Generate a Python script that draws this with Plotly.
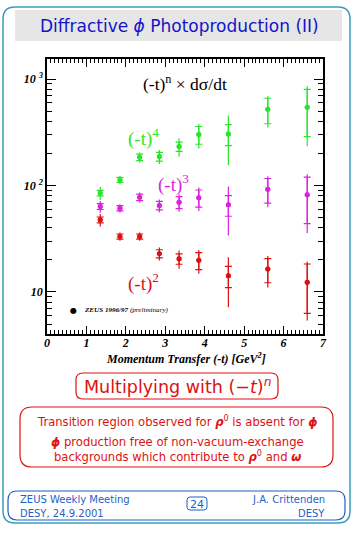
import plotly.graph_objects as go

# ---------------- data ----------------
t_vals = [1.35, 1.85, 2.35, 2.85, 3.35, 3.85, 4.6, 5.6, 6.6]

n4_vals = [85, 113, 184, 187, 232, 301, 305, 520, 543]
n4_stat = [5, 6, 13, 18, 23, 57, 68, 140, 255]
n4_tot = [12, 10, 20, 28, 46, 78, 150, 170, 310]

n3_vals = [63.5, 61.2, 77.6, 64.9, 69.7, 76.7, 65.9, 92.3, 81.8]
n3_stat = [4, 3.4, 5.5, 6, 9, 14, 14.5, 24, 38]
n3_tot = [8, 5.5, 8.5, 9, 13, 19, 32, 30, 46]

n2_vals = [47.6, 33.2, 33.2, 22.9, 20.5, 19.8, 14.2, 16.4, 12.3]
n2_stat = [3, 1.8, 1.8, 2, 2.3, 3.6, 3.2, 4.2, 6]
n2_tot = [6.5, 3, 3, 3.2, 4, 5, 7, 5.4, 6.9]

x_ticks = [0, 1, 2, 3, 4, 5, 6, 7]
y_ticks = [10, 100, 1000]
y_ticktext = ["10", "10 <sup>2</sup>", "10 <sup>3</sup>"]

GREEN = "#2ae62a"
MAGENTA = "#dd22dd"
RED = "#dd1111"
BLUE_T = "#1414c8"
BLUE_F = "#1f5fc8"
FRAME = "#3a9cbc"

# ---------------- geometry helpers (pixel -> paper) ----------------
W, H = 363, 535
L, T, R, B = 47, 59, 323, 334


def px(x):
    return (x - L) / (R - L)


def py(y):
    return (B - y) / (B - T)


def rrect(x0, y0, x1, y1, r):
    pts = [
        ("M", [(x0 + r, y0)]),
        ("L", [(x1 - r, y0)]),
        ("Q", [(x1, y0), (x1, y0 + r)]),
        ("L", [(x1, y1 - r)]),
        ("Q", [(x1, y1), (x1 - r, y1)]),
        ("L", [(x0 + r, y1)]),
        ("Q", [(x0, y1), (x0, y1 - r)]),
        ("L", [(x0, y0 + r)]),
        ("Q", [(x0, y0), (x0 + r, y0)]),
    ]
    s = ""
    for cmd, ps in pts:
        s += cmd + " " + " ".join(f"{px(a):.5f},{py(b):.5f}" for a, b in ps) + " "
    return s + "Z"


fig = go.Figure()

series = [
    (n4_vals, n4_stat, n4_tot, GREEN),
    (n3_vals, n3_stat, n3_tot, MAGENTA),
    (n2_vals, n2_stat, n2_tot, RED),
]
for vals, stat, tot, col in series:
    fig.add_trace(go.Scatter(
        x=t_vals, y=vals, mode="markers",
        marker=dict(color=col, size=5),
        error_y=dict(type="data", array=tot, color=col, thickness=1.2, width=0),
        showlegend=False, hoverinfo="skip"))
    fig.add_trace(go.Scatter(
        x=t_vals, y=vals, mode="markers",
        marker=dict(color=col, size=5),
        error_y=dict(type="data", array=stat, color=col, thickness=1.2, width=3.5),
        showlegend=False, hoverinfo="skip"))

tickfont = dict(family="Liberation Serif", size=12, color="black",
                weight="bold", style="italic")

y_minor = [m * 10 ** e for e in range(0, 4) for m in range(2, 10)]

fig.update_xaxes(
    range=[0, 7], tickvals=x_ticks, ticks="inside", ticklen=8,
    tickcolor="black", showline=True, linecolor="black", linewidth=1.5,
    mirror="ticks", showgrid=False, zeroline=False, tickfont=tickfont,
    ticklabelstandoff=-3,
    minor=dict(ticks="inside", dtick=0.1, ticklen=4, tickcolor="black",
               showgrid=False))
fig.update_yaxes(
    type="log", range=[0.605, 3.188], tickvals=y_ticks, ticktext=y_ticktext,
    ticks="inside", ticklen=9, tickcolor="black", showline=True,
    linecolor="black", linewidth=1.5, mirror="ticks", showgrid=False,
    zeroline=False, tickfont=dict(family="Liberation Serif", size=12,
                                  color="black", weight="bold", style="italic"),
    minor=dict(ticks="inside", tickvals=y_minor, ticklen=5, tickcolor="black",
               showgrid=False))

shapes = [
    # outer frame
    dict(type="path", path=rrect(3, 7, 350, 523, 12),
         line=dict(color=FRAME, width=1.5), fillcolor="rgba(0,0,0,0)"),
    # title band
    dict(type="rect", x0=px(15), x1=px(342), y0=py(10), y1=py(41),
         line=dict(width=0), fillcolor="#e6e6e6", layer="below"),
    # red boxes
    dict(type="path", path=rrect(76, 373, 278, 399, 7),
         line=dict(color=RED, width=1.2), fillcolor="rgba(0,0,0,0)"),
    dict(type="path", path=rrect(20, 407, 333, 467, 12),
         line=dict(color=RED, width=1.2), fillcolor="rgba(0,0,0,0)"),
    # footer box
    dict(type="path", path=rrect(8, 491, 345, 520, 9),
         line=dict(color=BLUE_F, width=1.2), fillcolor="rgba(0,0,0,0)"),
    dict(type="path", path=rrect(187, 497, 207, 510, 3),
         line=dict(color=BLUE_F, width=1), fillcolor="rgba(0,0,0,0)"),
]
for s in shapes:
    s.update(xref="paper", yref="paper")
fig.update_layout(shapes=shapes)

SANS = "DejaVu Sans"
SERIF = "Liberation Serif"


def ann(text, x, y, size, color, family=SANS, xanchor="center",
        yanchor="middle", xref="paper", yref="paper", **kw):
    fig.add_annotation(text=text, x=x, y=y, xref=xref, yref=yref,
                       showarrow=False, xanchor=xanchor, yanchor=yanchor,
                       font=dict(family=family, size=size, color=color, **kw))


# title
ann("Diffractive <i>ϕ</i> Photoproduction (II)", px(179), py(26), 17, BLUE_T)

# in-plot labels
ann("(-t)<sup>n</sup> × dσ/dt", 3.5, 2.967, 17.5, "black", family=SERIF,
    xref="x", yref="y")
ann("(-t)<sup>4</sup>", 2.44, 2.451, 19, GREEN, family=SERIF, xref="x", yref="y")
ann("(-t)<sup>3</sup>", 3.22, 2.019, 19, MAGENTA, family=SERIF, xref="x", yref="y")
ann("(-t)<sup>2</sup>", 2.45, 1.089, 19, RED, family=SERIF, xref="x", yref="y")

# legend-like note
ann("●", px(73), py(310), 8, "black", family=SANS)
ann("<b><i>ZEUS 1996/97</i></b> <i>(preliminary)</i>", px(82), py(310), 7.1,
    "black", family=SERIF, xanchor="left")

# axis title
ann("Momentum Transfer (-t) [GeV<sup>2</sup>]", px(186), py(358), 12, "black",
    family=SERIF, weight="bold", style="italic")

# boxes text
ann("Multiplying with (−<i>t</i>)<sup><i>n</i></sup>", px(177), py(386), 17.5, RED)
ann("Transition region observed for <b><i>ρ</i></b><sup>0</sup> is absent for <b><i>ϕ</i></b>",
    px(177), py(421), 11.6, RED)
ann("<b><i>ϕ</i></b> production free of non-vacuum-exchange", px(177), py(442), 11.6, RED)
ann("backgrounds which contribute to <b><i>ρ</i></b><sup>0</sup> and <b><i>ω</i></b>",
    px(177), py(456), 11.6, RED)

# footer
ann("ZEUS Weekly Meeting", px(18), py(499), 10, BLUE_F, xanchor="left")
ann("DESY, 24.9.2001", px(18), py(513), 10, BLUE_F, xanchor="left")
ann("24", px(197), py(504), 11, BLUE_F)
ann("J.A. Crittenden", px(327), py(499), 10, BLUE_F, xanchor="right")
ann("DESY", px(327), py(513), 10, BLUE_F, xanchor="right")

fig.update_layout(
    width=W, height=H, autosize=False,
    margin=dict(l=L, r=W - R, t=T, b=H - B, pad=0),
    paper_bgcolor="white", plot_bgcolor="white",
    showlegend=False,
)

fig.write_html("out.html", config={"displayModeBar": False},
               post_script="document.body.style.margin='0px';")
